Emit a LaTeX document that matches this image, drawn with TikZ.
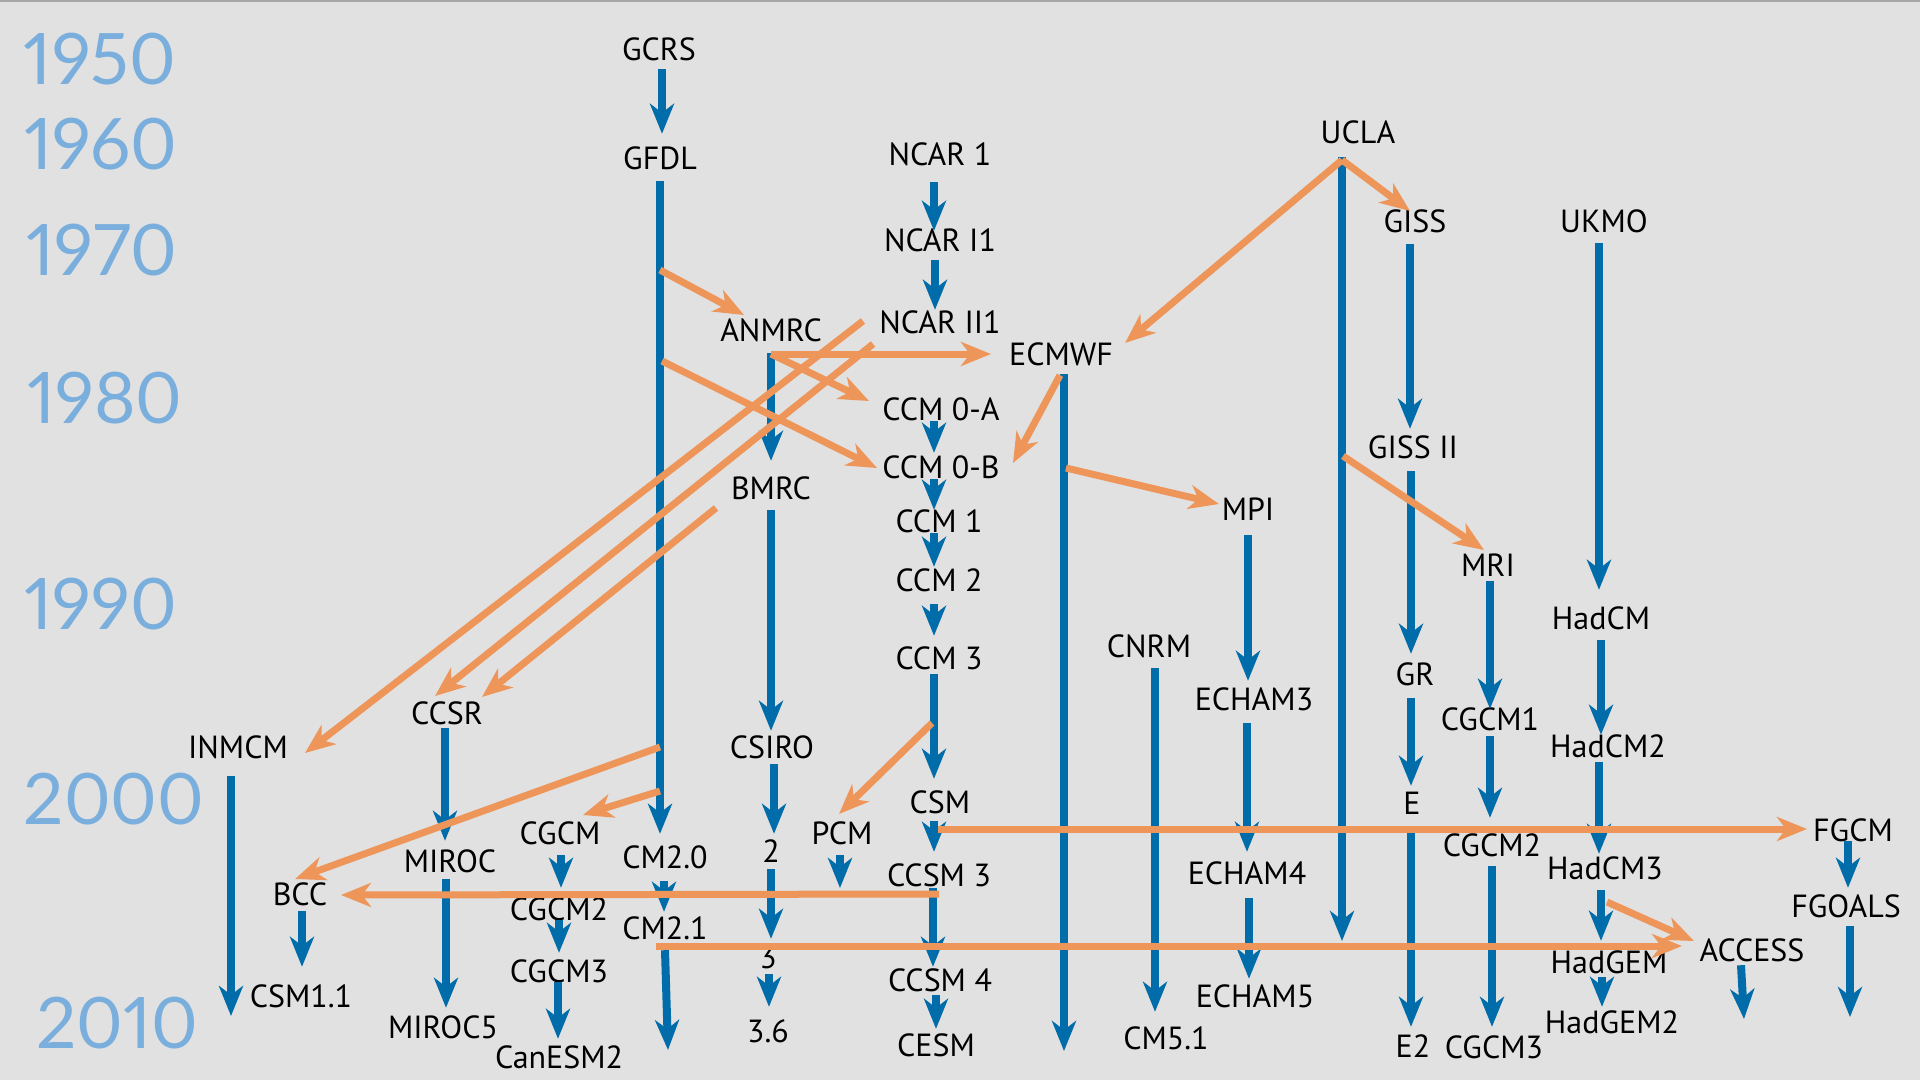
\documentclass[tikz,border=0pt]{standalone}
\usepackage{fontspec}
\setmainfont{PT Sans}
\newfontfamily\yearfont[Numbers=Proportional]{Lato}
\usetikzlibrary{arrows.meta,calc}
\definecolor{bgc}{HTML}{E1E1E1}
\definecolor{mblue}{HTML}{006DAA}
\definecolor{morange}{HTML}{EE955A}
\definecolor{yblue}{HTML}{7AAEDC}
\definecolor{topl}{HTML}{A6A6A6}
\newcommand\BArr[5]{\draw[barrow] ($(#1.south)+(#3,#4)$) -- ($(#1.south |- #2.north)+(#3,#5)$);}
\begin{document}
\begin{tikzpicture}[x=1pt,y=-1pt,
 lbl/.style={font=\fontsize{32}{36}\selectfont, inner sep=0pt, text height=22pt, text depth=0pt, anchor=center},
 yr/.style={font=\yearfont\fontsize{71}{80}\selectfont, text=yblue, inner sep=0pt, text height=52pt, text depth=0pt, anchor=center},
 barrow/.style={draw=mblue, line width=8pt, -{Stealth[length=30pt,width=24pt,inset=9pt]}},
 oarrow/.style={draw=morange, line width=7pt, -{Stealth[length=30pt,width=24pt,inset=9pt]}}]
\fill[bgc] (0,0) rectangle (1920,1080);
\useasboundingbox (0,0) rectangle (1920,1080);
\draw[topl, line width=2pt] (0,1) -- (1920,1);
% years
\node[yr] (y1950) at (100,58) {1950};
\node[yr] (y1960) at (101,143) {1960};
\node[yr] (y1970) at (102,249) {1970};
\node[yr] (y1980) at (105,397) {1980};
\node[yr] (y1990) at (101,603) {1990};
\node[yr] (y2000) at (114,798) {2000};
\node[yr] (y2010) at (117,1022) {2010};
% labels
\node[lbl] (gcrs) at (659,49) {GCRS};
\node[lbl] (gfdl) at (660,158) {GFDL};
\node[lbl] (ncar1) at (940,154) {NCAR 1};
\node[lbl] (ncari1) at (940,240) {NCAR I1};
\node[lbl] (ncarii1) at (940,322) {NCAR II1};
\node[lbl] (anmrc) at (771,330) {ANMRC};
\node[lbl] (ecmwf) at (1061,354) {ECMWF};
\node[lbl] (ccm0a) at (941,409) {CCM 0-A};
\node[lbl] (ccm0b) at (941,467) {CCM 0-B};
\node[lbl] (ccm1) at (939,521) {CCM 1};
\node[lbl] (bmrc) at (771,488) {BMRC};
\node[lbl] (mpi) at (1248,509) {MPI};
\node[lbl] (ccm2) at (939,580) {CCM 2};
\node[lbl] (ccm3) at (939,658) {CCM 3};
\node[lbl] (csm) at (940,802) {CSM};
\node[lbl] (ccsm3) at (939,875) {CCSM 3};
\node[lbl] (ccsm4) at (940,980) {CCSM 4};
\node[lbl] (cesm) at (936,1045) {CESM};
\node[lbl] (csiro) at (772,747) {CSIRO};
\node[lbl] (c2) at (771,851) {2};
\node[lbl] (c3) at (768,957) {3};
\node[lbl] (c36) at (768,1031) {3.6};
\node[lbl] (pcm) at (842,833) {PCM};
\node[lbl] (cm20) at (665,857) {CM2.0};
\node[lbl] (cm21) at (665,928) {CM2.1};
\node[lbl] (cnrm) at (1149,646) {CNRM};
\node[lbl] (cm51) at (1166,1038) {CM5.1};
\node[lbl] (echam3) at (1254,699) {ECHAM3};
\node[lbl] (echam4) at (1247,873) {ECHAM4};
\node[lbl] (echam5) at (1255,996) {ECHAM5};
\node[lbl] (ucla) at (1358,132) {UCLA};
\node[lbl] (giss) at (1415,221) {GISS};
\node[lbl] (gissii) at (1413,447) {GISS II};
\node[lbl] (ukmo) at (1604,221) {UKMO};
\node[lbl] (mri) at (1488,565) {MRI};
\node[lbl] (gr) at (1415,674) {GR};
\node[lbl] (e) at (1412,803) {E};
\node[lbl] (e2) at (1413,1046) {E2};
\node[lbl] (cgcm1) at (1490,719) {CGCM1};
\node[lbl] (cgcm2r) at (1492,845) {CGCM2};
\node[lbl] (cgcm3r) at (1494,1047) {CGCM3};
\node[lbl] (hadcm) at (1601,618) {HadCM};
\node[lbl] (hadcm2) at (1608,746) {HadCM2};
\node[lbl] (hadcm3) at (1605,868) {HadCM3};
\node[lbl] (hadgem) at (1609,962) {HadGEM};
\node[lbl] (hadgem2) at (1612,1022) {HadGEM2};
\node[lbl] (access) at (1752,950) {ACCESS};
\node[lbl] (fgcm) at (1853,830) {FGCM};
\node[lbl] (fgoals) at (1846,906) {FGOALS};
\node[lbl] (inmcm) at (238,747) {INMCM};
\node[lbl] (ccsr) at (447,713) {CCSR};
\node[lbl] (miroc) at (450,861) {MIROC};
\node[lbl] (miroc5) at (443,1027) {MIROC5};
\node[lbl] (bcc) at (300,894) {BCC};
\node[lbl] (csm11) at (301,996) {CSM1.1};
\node[lbl] (cgcm) at (560,833) {CGCM};
\node[lbl] (cgcm2l) at (559,909) {CGCM2};
\node[lbl] (cgcm3l) at (559,971) {CGCM3};
\node[lbl] (canesm2) at (559,1057) {CanESM2};
% coordinates on lines and free ends
\coordinate (gfdlA) at (660,270);
\coordinate (gfdlB) at (662,361);
\coordinate (gfdlC) at (660,747);
\coordinate (gfdlD) at (660,791);
\coordinate (anmrcA) at (771,354);
\coordinate (ecmwfA) at (1066,468);
\coordinate (uclaA) at (1342,160);
\coordinate (uclaB) at (1343,456);
\coordinate (ccm3A) at (932,723);
\coordinate (csmA) at (938,829);
\coordinate (ccsm3A) at (939,894);
\coordinate (hadcm3A) at (1607,902);
\coordinate (pcmEnd) at (840,888);
\coordinate (cm21End) at (668,1050);
\coordinate (ecmwfEnd) at (1064,1051);
\coordinate (uclaEnd) at (1342,941);
\coordinate (accessEnd) at (1744,1019);
\coordinate (fgoalsEnd) at (1850,1017);
\coordinate (inmcmEnd) at (231,1016);
% blue arrows
\BArr{gcrs}{gfdl}{3}{9}{-13}
\BArr{gfdl}{cm20}{0}{12}{-12}
\BArr{ncar1}{ncari1}{-6}{17}{2}
\BArr{ncari1}{ncarii1}{-5}{9}{-1}
\BArr{anmrc}{bmrc}{0}{12}{-16}
\BArr{bmrc}{csiro}{0}{11}{-5}
\BArr{ccm0a}{ccm0b}{-7}{1}{-3}
\BArr{ccm0b}{ccm1}{-7}{1}{0}
\BArr{ccm1}{ccm2}{-5}{1}{-2}
\BArr{ccm2}{ccm3}{-5}{13}{-11}
\BArr{ccm3}{csm}{-5}{5}{-12}
\BArr{csm}{ccsm3}{-6}{8}{-12}
\BArr{ccsm3}{ccsm4}{-6}{2}{-2}
\BArr{ccsm4}{cesm}{-4}{4}{-5}
\BArr{csiro}{c2}{2}{6}{-6}
\BArr{c2}{c3}{0}{7}{-7}
\BArr{c3}{c36}{1}{6}{-13}
\BArr{cm20}{cm21}{-1}{13}{-5}
\BArr{cnrm}{cm51}{6}{11}{-15}
\BArr{mpi}{echam3}{0}{15}{-7}
\BArr{echam3}{echam4}{-7}{13}{-10}
\BArr{echam4}{echam5}{2}{14}{-6}
\BArr{giss}{gissii}{-5}{12}{-7}
\BArr{gissii}{gr}{-2}{13}{-9}
\BArr{gr}{e}{-4}{13}{-6}
\BArr{e}{e2}{-1}{19}{-8}
\BArr{mri}{cgcm1}{2}{5}{1}
\BArr{cgcm1}{cgcm2r}{0}{6}{-16}
\BArr{cgcm2r}{cgcm3r}{0}{10}{-9}
\BArr{ukmo}{hadcm}{-5}{11}{-17}
\BArr{hadcm}{hadcm2}{0}{11}{0}
\BArr{hadcm2}{hadcm3}{-9}{5}{-3}
\BArr{hadcm3}{hadgem}{-4}{11}{-10}
\BArr{hadgem}{hadgem2}{-7}{4}{-4}
\BArr{fgcm}{fgoals}{-5}{0}{-7}
\BArr{ccsr}{miroc}{-2}{4}{-9}
\BArr{miroc}{miroc5}{-4}{7}{-8}
\BArr{bcc}{csm11}{2}{6}{-18}
\BArr{cgcm}{cgcm2l}{1}{11}{-10}
\BArr{cgcm2l}{cgcm3l}{0}{0}{-7}
\BArr{cgcm3l}{canesm2}{-1}{0}{-7}
\draw[barrow] ($(pcm.south)+(-2,11)$) -- (pcmEnd);
\draw[barrow] ($(cm21.south)+(0,11)$) -- (cm21End);
\draw[barrow] ($(ecmwf.south)+(3,9)$) -- (ecmwfEnd);
\draw[barrow] ($(ucla.south)+(-16,14)$) -- (uclaEnd);
\draw[barrow] ($(access.south)+(-11,4)$) -- (accessEnd);
\draw[barrow] ($(fgoals.south)+(4,9)$) -- (fgoalsEnd);
\draw[barrow] ($(inmcm.south)+(-7,18)$) -- (inmcmEnd);
% orange arrows
\draw[oarrow] (gfdlA) -- ($(anmrc)+(-27,-15)$);
\draw[oarrow] (gfdlB) -- ($(ccm0b)+(-64,1)$);
\draw[oarrow] (anmrcA) -- ($(ecmwf)+(-70,0)$);
\draw[oarrow] (anmrcA) -- ($(ccm0a)+(-72,-8)$);
\draw[oarrow] ($(ecmwf.south)+(-1,10)$) -- ($(ccm0b)+(72,-4)$);
\draw[oarrow] (ecmwfA) -- ($(mpi)+(-29,-5)$);
\draw[oarrow] (uclaA) -- ($(ecmwf)+(64,-11)$);
\draw[oarrow] (uclaA) -- ($(giss)+(-5,-10)$);
\draw[oarrow] (uclaB) -- ($(mri)+(-4,-15)$);
\draw[oarrow] ($(ncarii1)+(-77,-1)$) -- ($(inmcm)+(67,6)$);
\draw[oarrow] ($(ncarii1)+(-67,22)$) -- ($(ccsr)+(-12,-17)$);
\draw[oarrow] ($(bmrc)+(-55,20)$) -- ($(ccsr)+(35,-16)$);
\draw[oarrow] (gfdlC) -- ($(bcc)+(-5,-15)$);
\draw[oarrow] (gfdlD) -- ($(cgcm)+(23,-18)$);
\draw[oarrow] (ccm3A) -- ($(pcm)+(-3,-19)$);
\draw[oarrow] (csmA) -- ($(fgcm)+(-46,-1)$);
\draw[oarrow] (ccsm3A) -- ($(bcc)+(41,1)$);
\draw[oarrow] ($(cm21)+(-9,18)$) -- ($(access)+(-70,-4)$);
\draw[oarrow] (hadcm3A) -- ($(access)+(-58,-9)$);
\end{tikzpicture}
\end{document}
